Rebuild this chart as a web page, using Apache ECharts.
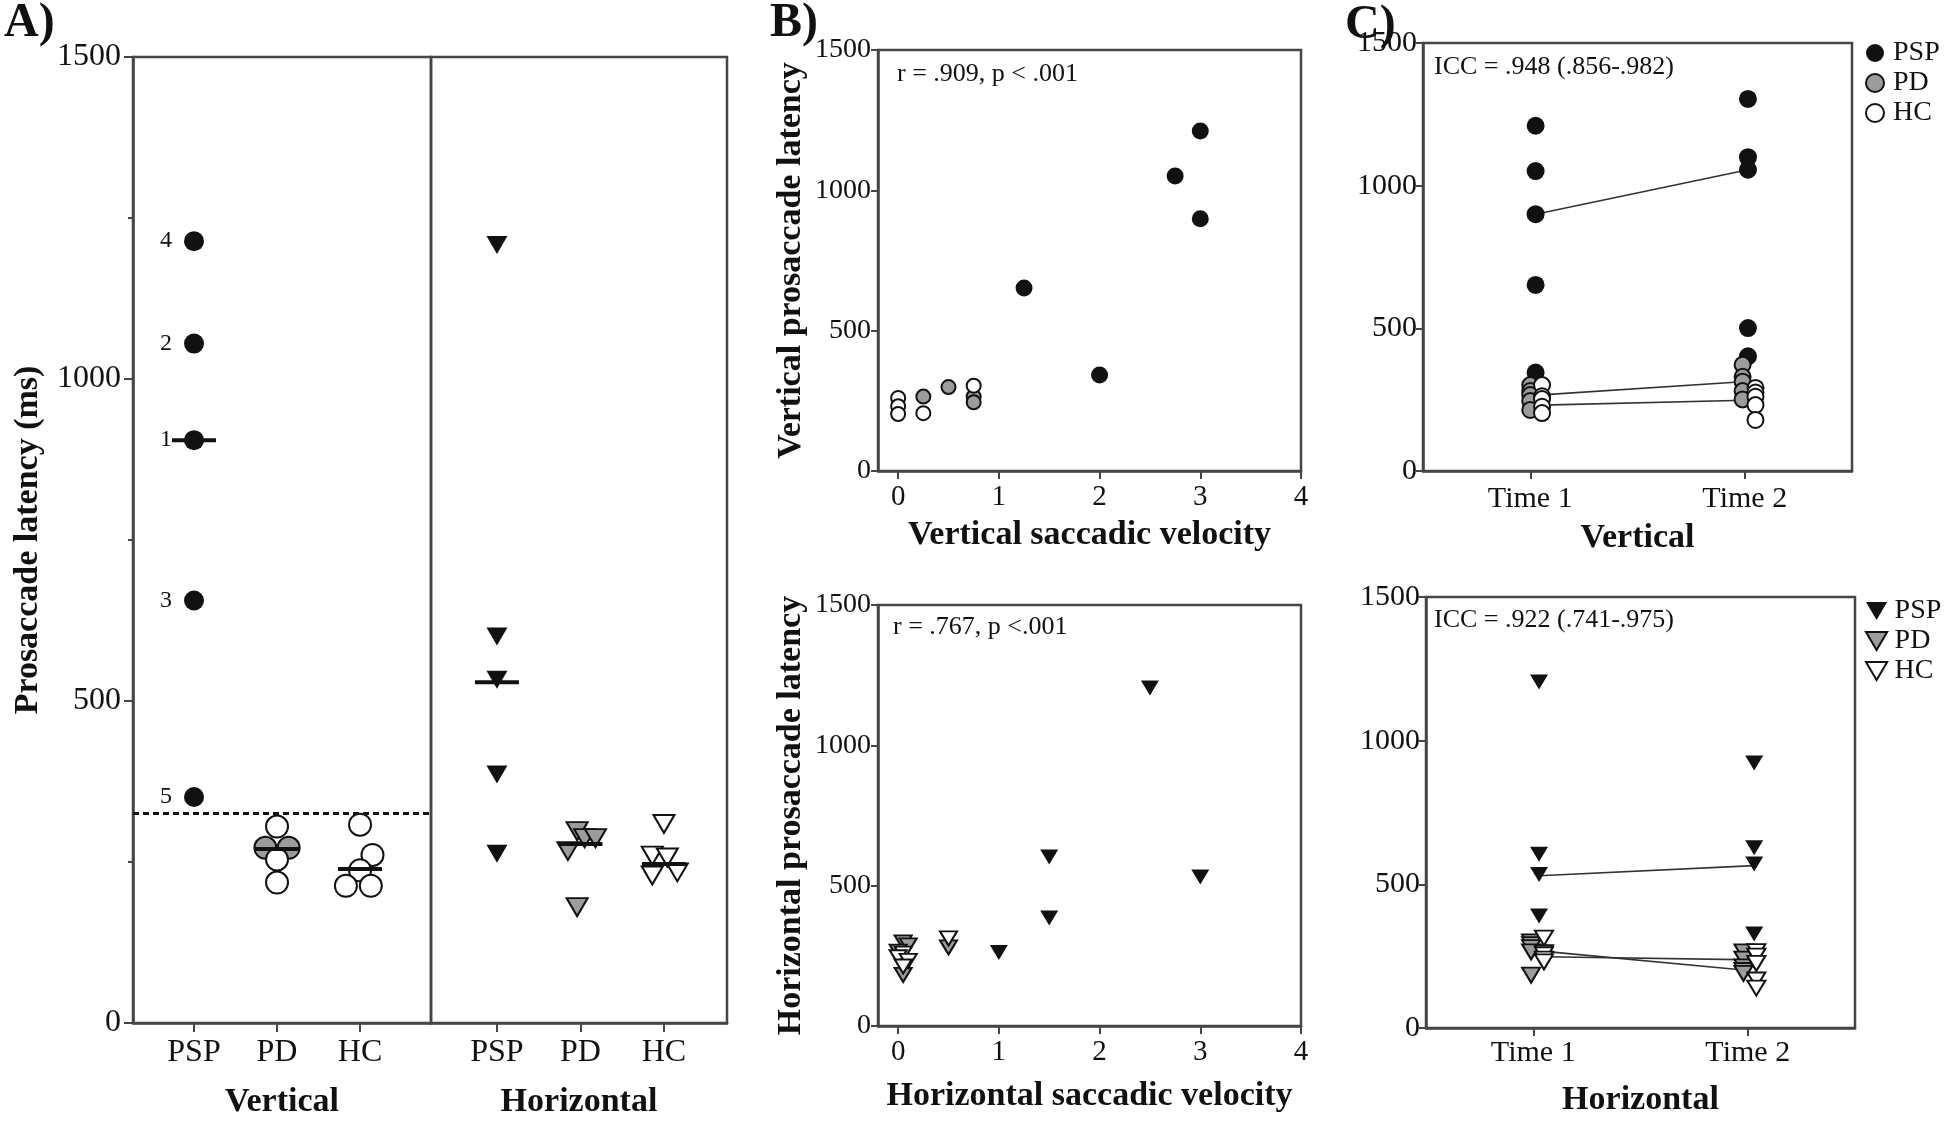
<!DOCTYPE html>
<html><head><meta charset="utf-8">
<script src="https://cdn.jsdelivr.net/npm/echarts@6/dist/echarts.min.js"></script>
<style>html,body{margin:0;padding:0;background:#fff}#c{width:1946px;height:1124px}</style>
</head><body><div id="c"></div>
<script>
// ================= DATA =================
const groups = ['PSP', 'PD', 'HC'];
const timeLabels = ['Time 1', 'Time 2'];
const velocityTicks = [0, 1, 2, 3, 4];

// Panel A – prosaccade latency (ms) per group
const A_V_PSP = [1214, 1055, 905, 656, 351];
const A_V_PSP_ids = ['4', '2', '1', '3', '5'];
const A_V_PD = [305, 272, 272, 254, 218];
const A_V_PD_jit = [0, -0.14, 0.14, 0, 0];
const A_V_PD_filled = [false, true, true, false, false];
const A_V_HC = [308, 261, 237, 213, 213];
const A_V_HC_jit = [0, 0.15, 0, -0.17, 0.13];
const A_V_median = [905, 270, 239];
const A_cutoff = 325;

const A_H_PSP = [1208, 600, 533, 386, 263];
const A_H_PD = [298, 287, 287, 267, 180];
const A_H_PD_jit = [-0.04, 0.05, 0.18, -0.15, -0.04];
const A_H_HC = [309, 260, 257, 234, 229];
const A_H_HC_jit = [0, -0.14, 0.04, 0.16, -0.14];
const A_H_median = [529, 278, 247];

// Panel B – [saccadic velocity, latency]
const B_V_PSP = [[3, 1211], [2.75, 1051], [3, 899], [1.25, 652], [2, 342]];
const B_V_PD = [[0.25, 265], [0.5, 299], [0.75, 265], [0.75, 245]];
const B_V_HC = [[0, 260], [0, 231], [0, 203], [0.25, 206], [0.75, 304]];
const B_H_PSP = [[2.5, 1204], [1.5, 602], [3, 531], [1.5, 385], [1, 262]];
const B_H_PD = [[0.05, 298], [0.1, 287], [0.5, 280], [0, 265], [0.05, 182]];
const B_H_HC = [[0.5, 312], [0.05, 258], [0, 245], [0.1, 232], [0.05, 212]];

// Panel C – test/retest latency
const C_V_PSP_t1 = [1210, 1051, 900, 652, 345];
const C_V_PSP_t2 = [1304, 1100, 1056, 501, 402];
const C_V_PD_t1 = [301, 280, 266, 245, 214];
const C_V_PD_t2 = [372, 330, 313, 280, 251];
const C_V_HC_t1 = [301, 262, 252, 225, 203];
const C_V_HC_t2 = [291, 275, 260, 231, 179];
const C_V_medians = [[900, 1056], [264, 313], [231, 249]];
const C_V_jit_t1 = [0.025, 0, 0.055];
const C_V_jit_t2 = [0.015, -0.01, 0.05];

const C_H_PSP_t1 = [1204, 605, 534, 390, 264];
const C_H_PSP_t2 = [922, 627, 571, 327, 250];
const C_H_PD_t1 = [300, 290, 280, 265, 184];
const C_H_PD_t2 = [265, 240, 213, 200, 190];
const C_H_HC_t1 = [313, 262, 255, 240, 230];
const C_H_HC_t2 = [266, 250, 225, 167, 139];
const C_H_medians = [[530, 565], [271, 202], [248, 237]];
const C_H_jit_t1 = [0.027, -0.01, 0.05];
const C_H_jit_t2 = [0.03, -0.02, 0.04];

const annotations = ['r = .909, p < .001', 'r = .767, p <.001', 'ICC = .948 (.856-.982)', 'ICC = .922 (.741-.975)'];

// ================= STYLE =================
const F = '"Liberation Serif","Times New Roman",serif';
const AX = '#454545';
const BLACK = '#111';
const GRAY = '#9c9c9c';
const WHITE = '#fff';
const TRI = 'path://M0,0L20,0L10,17Z';
const TXT = '#111';

function xAx(gi, min, max, vals, fmt, name, o) {
  return {
    type: 'value', gridIndex: gi, min: min, max: max, splitLine: { show: false },
    axisLine: { show: true, onZero: false, lineStyle: { color: AX, width: 2.5 } },
    axisTick: { show: true, customValues: vals, length: o.tick, lineStyle: { color: AX, width: 2 } },
    axisLabel: { customValues: vals, formatter: fmt, color: TXT, fontFamily: F, fontSize: o.fs, margin: o.margin },
    name: name, nameLocation: 'middle', nameGap: o.gap,
    nameTextStyle: { fontFamily: F, fontWeight: 'bold', fontSize: 34, color: TXT }
  };
}
function yAx(gi, name, o) {
  const on = o.hide !== true;
  return {
    type: 'value', gridIndex: gi, min: 0, max: 1500, interval: 500, splitLine: { show: false },
    axisLine: { show: on, onZero: false, lineStyle: { color: AX, width: 2.5 } },
    axisTick: { show: on, length: o.tick || 8, lineStyle: { color: AX, width: 2 } },
    minorTick: { show: !!o.minor, splitNumber: 2, length: 5, lineStyle: { color: AX, width: 2 } },
    axisLabel: { show: on, formatter: v => String(v), color: TXT, fontFamily: F, fontSize: o.fs || 28, margin: o.margin || 8 },
    name: name || '', nameLocation: 'middle', nameGap: o.gap || 0,
    nameTextStyle: { fontFamily: F, fontWeight: 'bold', fontSize: 34, color: TXT }
  };
}
function sc(ai, name, data, symbol, size, fill, extra) {
  return Object.assign({
    type: 'scatter', name: name, xAxisIndex: ai, yAxisIndex: ai, data: data,
    symbol: symbol, symbolSize: size,
    itemStyle: { color: fill, borderColor: BLACK, borderWidth: fill === BLACK ? 0 : 2, opacity: 1 },
    z: 3, silent: true
  }, extra || {});
}
function col(vals, x, jit) { return vals.map((v, i) => [x + (jit ? jit[i] : 0), v]); }
function medians(arr) { return arr.map((v, i) => [i + 1, v]); }
function medLine(ai, pair, j1, j2) {
  return { type: 'line', xAxisIndex: ai, yAxisIndex: ai, data: [[0.5 + j1, pair[0]], [1.5 + j2, pair[1]]],
    symbol: 'none', lineStyle: { color: '#333', width: 1.6 }, z: 2, silent: true };
}

const gridStyle = { show: true, borderColor: AX, borderWidth: 2.5, backgroundColor: 'transparent' };
const grids = [
  Object.assign({ left: 133, top: 57, width: 298, height: 971 }, gridStyle),
  Object.assign({ left: 431, top: 57, width: 296, height: 971 }, gridStyle),
  Object.assign({ left: 878, top: 50, width: 423, height: 421 }, gridStyle),
  Object.assign({ left: 878, top: 605, width: 423, height: 421 }, gridStyle),
  Object.assign({ left: 1423, top: 43, width: 429, height: 428 }, gridStyle),
  Object.assign({ left: 1426, top: 597, width: 429, height: 431 }, gridStyle)
];

const grpFmt = v => groups[Math.round(v) - 1];
const timeFmt = v => timeLabels[v < 1 ? 0 : 1];
const numFmt = v => String(v);

const xAxes = [
  xAx(0, 0.265, 3.855, [1, 2, 3], grpFmt, 'Vertical', { tick: 9, fs: 32, margin: 14, gap: 62 }),
  xAx(1, 0.21, 3.755, [1, 2, 3], grpFmt, 'Horizontal', { tick: 9, fs: 32, margin: 14, gap: 62 }),
  xAx(2, -0.2, 4, velocityTicks, numFmt, 'Vertical saccadic velocity', { tick: 8, fs: 29, margin: 12, gap: 47 }),
  xAx(3, -0.2, 4, velocityTicks, numFmt, 'Horizontal saccadic velocity', { tick: 8, fs: 29, margin: 12, gap: 53 }),
  xAx(4, 0, 2, [0.5, 1.5], timeFmt, 'Vertical', { tick: 8, fs: 30, margin: 13, gap: 50 }),
  xAx(5, 0, 2, [0.5, 1.5], timeFmt, 'Horizontal', { tick: 8, fs: 30, margin: 10, gap: 55 })
];
const yAxes = [
  yAx(0, 'Prosaccade latency (ms)', { tick: 9, fs: 32, margin: 12, gap: 88, minor: true }),
  yAx(1, '', { hide: true }),
  yAx(2, 'Vertical prosaccade latency', { tick: 7, fs: 28, margin: 7, gap: 70 }),
  yAx(3, 'Horizontal prosaccade latency', { tick: 7, fs: 28, margin: 7, gap: 70 }),
  yAx(4, '', { tick: 7, fs: 30, margin: 6 }),
  yAx(5, '', { tick: 7, fs: 30, margin: 6 })
];

const series = [
  // ---- Panel A vertical ----
  sc(0, 'aVPSP', col(A_V_PSP, 1), 'circle', 20, BLACK, {
    label: { show: true, position: 'left', distance: 12, formatter: p => A_V_PSP_ids[p.dataIndex],
      fontFamily: F, fontSize: 24, color: TXT }
  }),
  sc(0, 'aVPD', col(A_V_PD, 2, A_V_PD_jit), 'circle', 22, WHITE, {
    itemStyle: { color: p => A_V_PD_filled[p.dataIndex] ? GRAY : WHITE, borderColor: BLACK, borderWidth: 2, opacity: 1 },
    markLine: { silent: true, symbol: ['none', 'none'], label: { show: false }, animation: false,
      lineStyle: { color: BLACK, type: [6, 4], width: 3 }, data: [{ yAxis: A_cutoff }] }
  }),
  sc(0, 'aVHC', col(A_V_HC, 3, A_V_HC_jit), 'circle', 22, WHITE),
  sc(0, 'aVmed', medians(A_V_median), 'rect', [44, 4], BLACK, { z: 6 }),
  // ---- Panel A horizontal ----
  sc(1, 'aHPSP', col(A_H_PSP, 1), TRI, [21, 18], BLACK),
  sc(1, 'aHPD', col(A_H_PD, 2, A_H_PD_jit), TRI, [21, 18], GRAY),
  sc(1, 'aHHC', col(A_H_HC, 3, A_H_HC_jit), TRI, [21, 18], WHITE),
  sc(1, 'aHmed', medians(A_H_median), 'rect', [44, 4], BLACK, { z: 6 }),
  // ---- Panel B ----
  sc(2, 'bVPSP', B_V_PSP, 'circle', 17, BLACK),
  sc(2, 'bVPD', B_V_PD, 'circle', 14, GRAY),
  sc(2, 'bVHC', B_V_HC, 'circle', 14, WHITE),
  sc(3, 'bHPSP', B_H_PSP, TRI, [18, 15], BLACK),
  sc(3, 'bHPD', B_H_PD, TRI, [17, 14], GRAY),
  sc(3, 'bHHC', B_H_HC, TRI, [17, 14], WHITE),
  // ---- Panel C vertical ----
  medLine(4, C_V_medians[0], C_V_jit_t1[0], C_V_jit_t2[0]),
  medLine(4, C_V_medians[1], C_V_jit_t1[1], C_V_jit_t2[1]),
  medLine(4, C_V_medians[2], C_V_jit_t1[2], C_V_jit_t2[2]),
  sc(4, 'PSP', col(C_V_PSP_t1, 0.5 + C_V_jit_t1[0]).concat(col(C_V_PSP_t2, 1.5 + C_V_jit_t2[0])), 'circle', 18, BLACK),
  sc(4, 'PD', col(C_V_PD_t1, 0.5 + C_V_jit_t1[1]).concat(col(C_V_PD_t2, 1.5 + C_V_jit_t2[1])), 'circle', 16, GRAY),
  sc(4, 'HC', col(C_V_HC_t1, 0.5 + C_V_jit_t1[2]).concat(col(C_V_HC_t2, 1.5 + C_V_jit_t2[2])), 'circle', 16, WHITE),
  // ---- Panel C horizontal ----
  medLine(5, C_H_medians[0], C_H_jit_t1[0], C_H_jit_t2[0]),
  medLine(5, C_H_medians[1], C_H_jit_t1[1], C_H_jit_t2[1]),
  medLine(5, C_H_medians[2], C_H_jit_t1[2], C_H_jit_t2[2]),
  sc(5, 'PSP ', col(C_H_PSP_t1, 0.5 + C_H_jit_t1[0]).concat(col(C_H_PSP_t2, 1.5 + C_H_jit_t2[0])), TRI, [18, 15], BLACK),
  sc(5, 'PD ', col(C_H_PD_t1, 0.5 + C_H_jit_t1[1]).concat(col(C_H_PD_t2, 1.5 + C_H_jit_t2[1])), TRI, [18, 15], GRAY),
  sc(5, 'HC ', col(C_H_HC_t1, 0.5 + C_H_jit_t1[2]).concat(col(C_H_HC_t2, 1.5 + C_H_jit_t2[2])), TRI, [18, 15], WHITE)
];

function legendItems(names, icon) {
  const fills = [BLACK, GRAY, WHITE];
  return names.map((n, i) => ({ name: n, icon: icon,
    itemStyle: { color: fills[i], borderColor: BLACK, borderWidth: i === 0 ? 0 : 2 } }));
}
const legendBase = {
  orient: 'vertical', itemWidth: 26, itemHeight: 18, itemGap: 2, selectedMode: false,
  formatter: n => n.trim(), textStyle: { fontFamily: F, fontSize: 28, color: TXT }
};

const txt = (t, left, top, size, bold) => ({ type: 'text', left: left, top: top, silent: true,
  style: { text: t, font: (bold ? 'bold ' : '') + size + 'px ' + F, fill: TXT } });

const option = {
  animation: false,
  backgroundColor: '#fff',
  grid: grids,
  xAxis: xAxes,
  yAxis: yAxes,
  legend: [
    Object.assign({ left: 1860, top: 34, data: legendItems(['PSP', 'PD', 'HC'], 'circle') }, legendBase),
    Object.assign({ left: 1860, top: 592, data: legendItems(['PSP ', 'PD ', 'HC '], TRI) }, legendBase)
  ],
  graphic: [
    txt('A)', 4, 0, 48, true),
    txt('B)', 770, 0, 48, true),
    txt('C)', 1345, 2, 48, true),
    txt(annotations[0], 897, 61, 26, false),
    txt(annotations[1], 893, 614, 26, false),
    txt(annotations[2], 1434, 54, 26, false),
    txt(annotations[3], 1434, 607, 26, false)
  ],
  series: series
};
const chart = echarts.init(document.getElementById('c'));
chart.setOption(option);
</script></body></html>
